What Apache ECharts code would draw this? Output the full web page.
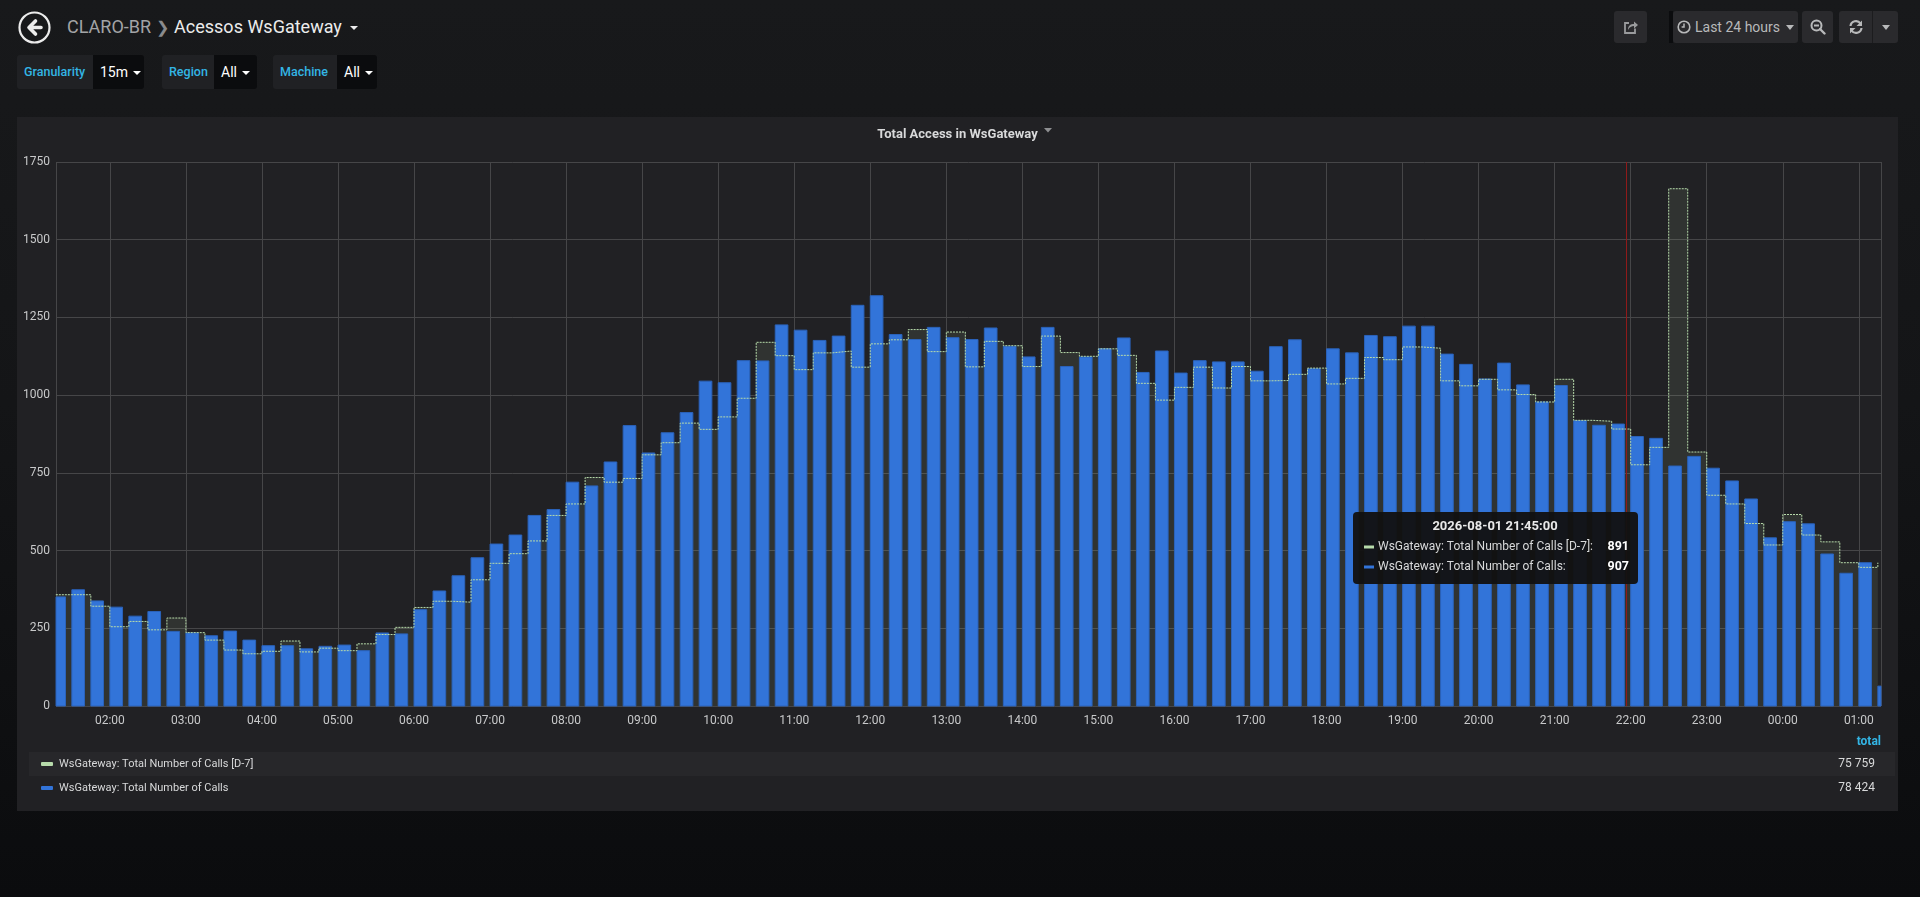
<!DOCTYPE html>
<html>
<head>
<meta charset="utf-8">
<title>Acessos WsGateway</title>
<script src="https://cdn.jsdelivr.net/npm/echarts@6/dist/echarts.min.js"></script>
<style>
html, body { margin: 0; padding: 0; }
body {
    width: 1920px; height: 897px; overflow: hidden; position: relative;
    background: linear-gradient(180deg, #18191b 0%, #141517 45%, #0b0c0e 100%);
    font-family: Roboto, "Noto Sans", sans-serif; color: #d8d9da;
}
.abs { position: absolute; }
#back { left: 18px; top: 11px; width: 33px; height: 33px; }
#crumb { left: 67px; top: 14px; font-size: 18px; line-height: 26px; white-space: nowrap; }
#crumb .org { color: #a3a4a6; }
#crumb .sep { color: #8a8b8d; margin: 0 5px; font-size: 16px; }
#crumb .dash { color: #ececec; }
#crumb .caret { display: inline-block; margin-left: 8px; vertical-align: middle; border-left: 4px solid transparent; border-right: 4px solid transparent; border-top: 4px solid #ececec; }
.var { top: 55px; height: 34px; display: flex; border-radius: 3px; overflow: hidden; }
.var .lbl { background: #202124; color: #33b5e5; font-size: 12.5px; font-weight: 500; line-height: 34px; box-sizing: border-box; padding-left: 7px; }
.var .val { background: #0b0c0e; color: #fff; font-size: 14px; line-height: 34px; box-sizing: border-box; padding-left: 7px; }
.var .val i { display: inline-block; margin-left: 5px; vertical-align: middle; border-left: 4px solid transparent; border-right: 4px solid transparent; border-top: 4px solid #fff; }
.btn { top: 11px; height: 32px; background: #2a2a2d; border-radius: 3px; display: flex; align-items: center; justify-content: center; color: #b8b9ba; font-size: 14px; box-sizing: border-box; }
#panel { left: 17px; top: 117px; width: 1881px; height: 694px; background: #212124; }
#chart { width: 1881px; height: 694px; }
</style>
</head>
<body>

<svg id="back" class="abs" viewBox="0 0 33 33">
    <circle cx="16.5" cy="16.5" r="15" fill="none" stroke="#ececec" stroke-width="2.2"/>
    <path d="M17.5 10 L11 16.5 L17.5 23 M11.5 16.5 H23" fill="none" stroke="#ececec" stroke-width="3.6" stroke-linecap="round" stroke-linejoin="round"/>
</svg>
<div id="crumb" class="abs"><span class="org">CLARO-BR</span><span class="sep">&#x276F;</span><span class="dash">Acessos WsGateway</span><i class="caret"></i></div>

<div class="var abs" style="left:17px;"><div class="lbl" style="width:76px;">Granularity</div><div class="val" style="width:51px;">15m<i></i></div></div>
<div class="var abs" style="left:162px;"><div class="lbl" style="width:52px;">Region</div><div class="val" style="width:43px;">All<i></i></div></div>
<div class="var abs" style="left:273px;"><div class="lbl" style="width:64px;">Machine</div><div class="val" style="width:40px;">All<i></i></div></div>

<div class="btn abs" style="left:1614px;width:33px;">
    <svg width="16" height="16" viewBox="0 0 16 16"><path d="M12 9.5 V14 H2 V4 H6" fill="none" stroke="#9a9b9d" stroke-width="1.8"/><path d="M5 11 C5 6 8 5 11 5 V2.5 L15 6 L11 9.5 V7 C8.5 7 6.5 8 5 11 Z" fill="#9a9b9d"/></svg>
</div>
<div class="abs" style="left:1669px;top:11px;width:4px;height:32px;background:#0b0c0e;"></div>
<div class="btn abs" style="left:1673px;width:125px;">
    <svg width="14" height="14" viewBox="0 0 14 14" style="margin-right:4px;"><circle cx="7" cy="7" r="5.8" fill="none" stroke="#b8b9ba" stroke-width="1.6"/><path d="M7 3.5 V7 H4.6" fill="none" stroke="#b8b9ba" stroke-width="1.5"/></svg>
    <span>Last 24 hours</span>
    <i style="display:inline-block;margin-left:6px;border-left:4px solid transparent;border-right:4px solid transparent;border-top:5px solid #b8b9ba;"></i>
</div>
<div class="btn abs" style="left:1802px;width:31px;">
    <svg width="16" height="16" viewBox="0 0 16 16"><circle cx="6.5" cy="6.5" r="5" fill="none" stroke="#b8b9ba" stroke-width="2"/><path d="M4 6.5 H9" stroke="#b8b9ba" stroke-width="2"/><path d="M10 10 L14.5 14.5" stroke="#b8b9ba" stroke-width="2.4" stroke-linecap="round"/></svg>
</div>
<div class="btn abs" style="left:1839px;width:59px;justify-content:flex-start;">
    <div style="width:33px;display:flex;justify-content:center;">
        <svg width="16" height="16" viewBox="0 0 16 16"><path d="M2.5 7 A5.5 5.5 0 0 1 12.5 4.5" fill="none" stroke="#b8b9ba" stroke-width="2.2"/><path d="M14 1.5 V7 H8.5 Z" fill="#b8b9ba"/><path d="M13.5 9 A5.5 5.5 0 0 1 3.5 11.5" fill="none" stroke="#b8b9ba" stroke-width="2.2"/><path d="M2 14.5 V9 H7.5 Z" fill="#b8b9ba"/></svg>
    </div>
    <div style="width:1px;height:32px;background:#1c1c1e;"></div>
    <i style="display:inline-block;margin-left:9px;border-left:4px solid transparent;border-right:4px solid transparent;border-top:5px solid #b8b9ba;"></i>
</div>

<div id="panel" class="abs"><div id="chart"></div></div>

<script>
// 15 minute slots, first one at 2026-08-01 01:15
var slotStart = [2026, 7, 1, 1, 15];
var slotMinutes = 15;
var barMinutes = 10;

var seriesNames = ['WsGateway: Total Number of Calls [D-7]', 'WsGateway: Total Number of Calls'];
var seriesColors = ['#b7dbab', '#3274d9'];

// WsGateway: Total Number of Calls [D-7]
var callsD7 = [
    358, 358, 321, 255, 272, 245, 283, 236, 212, 180, 168, 176,
    209, 174, 186, 178, 200, 230, 253, 317, 337, 334, 406, 459,
    490, 531, 613, 650, 735, 720, 732, 808, 847, 910, 890, 930,
    990, 1170, 1127, 1082, 1136, 1142, 1090, 1165, 1178, 1211, 1140, 1203,
    1091, 1173, 1159, 1092, 1190, 1137, 1125, 1149, 1128, 1038, 984, 1025,
    1090, 1023, 1092, 1046, 1047, 1067, 1087, 1036, 1054, 1121, 1114, 1155,
    1151, 1046, 1030, 1051, 1017, 1002, 978, 1051, 919, 916, 891, 776,
    832, 1664, 817, 678, 650, 587, 518, 616, 550, 528, 461, 446, 461
];

// WsGateway: Total Number of Calls
var calls = [
    351, 374, 338, 318, 289, 304, 240, 235, 226, 241, 212, 194,
    194, 184, 192, 196, 178, 235, 232, 310, 370, 419, 477, 521,
    550, 613, 632, 720, 708, 785, 902, 814, 879, 944, 1045, 1040,
    1111, 1110, 1226, 1209, 1176, 1190, 1289, 1320, 1195, 1179, 1218, 1185,
    1179, 1216, 1157, 1123, 1218, 1092, 1123, 1149, 1184, 1073, 1142, 1071,
    1111, 1107, 1107, 1077, 1156, 1178, 1085, 1149, 1136, 1192, 1188, 1222,
    1222, 1132, 1099, 1052, 1103, 1033, 978, 1031, 918, 903, 907, 867,
    861, 772, 803, 765, 724, 666, 541, 593, 586, 489, 427, 461, 64
];

var legendTotals = [75759, 78424];
var yTicks = [0, 250, 500, 750, 1000, 1250, 1500, 1750];

// time range shown (last 24 hours) and the hovered slot
var rangeStart = [2026, 7, 1, 1, 17, 30];
var rangeHours = 24;
var hoverIndex = 82;
var crosshairAt = [2026, 7, 1, 21, 56];

function ts(a) {
    return new Date(a[0], a[1], a[2], a[3], a[4], a[5] || 0).getTime();
}
function pad(n) { return (n < 10 ? '0' : '') + n; }
function fmtTotal(n) { return String(n).replace(/\B(?=(\d{3})+(?!\d))/g, ' '); }

var t0 = ts(slotStart);
var times = calls.map(function (v, i) { return t0 + i * slotMinutes * 60000; });
var d7Data = callsD7.map(function (v, i) { return [times[i], v]; });
var callData = calls.map(function (v, i) { return [times[i], v]; });
var xMin = ts(rangeStart);
var xMax = xMin + rangeHours * 3600000;

function renderBar(params, api) {
    var t = api.value(0);
    var top = api.coord([t, api.value(1)]);
    var base = api.coord([t + barMinutes * 60000, 0]);
    var cs = params.coordSys;
    var shape = echarts.graphic.clipRectByRect(
        { x: top[0], y: top[1], width: base[0] - top[0], height: base[1] - top[1] },
        { x: cs.x, y: cs.y, width: cs.width, height: cs.height }
    );
    if (!shape) return;
    return {
        type: 'rect',
        shape: shape,
        style: { fill: seriesColors[1], stroke: '#2b63bb', lineWidth: 1 }
    };
}

var hoverDate = new Date(times[hoverIndex]);
var hoverTitle = hoverDate.getFullYear() + '-' + pad(hoverDate.getMonth() + 1) + '-' + pad(hoverDate.getDate()) +
    ' ' + pad(hoverDate.getHours()) + ':' + pad(hoverDate.getMinutes()) + ':00';
var hoverValues = [callsD7[hoverIndex], calls[hoverIndex]];

var font = 'Roboto, "Noto Sans", sans-serif';
var gridTop = 45, gridBottom = 105, chartH = 694;
var graphics = [
    // title caret
    { type: 'polygon', z: 100, shape: { points: [[1027, 11], [1035, 11], [1031, 15.5]] }, style: { fill: '#8e8f91' } },
    // legend
    { type: 'rect', z: 1, shape: { x: 12, y: 635, width: 1866, height: 24 }, style: { fill: '#27272a' } },
    { type: 'text', z: 100, x: 1864, y: 625, style: { text: 'total', fill: '#33b5e5', fontSize: 12, fontWeight: 'bold', fontFamily: font, align: 'right', verticalAlign: 'middle' } }
];
[647, 671].forEach(function (y, i) {
    graphics.push({ type: 'rect', z: 100, shape: { x: 24, y: y - 2, width: 12, height: 4, r: 1 }, style: { fill: seriesColors[i] } });
    graphics.push({ type: 'text', z: 100, x: 42, y: y, style: { text: seriesNames[i], fill: '#d8d9da', fontSize: 11, fontFamily: font, verticalAlign: 'middle' } });
    graphics.push({ type: 'text', z: 100, x: 1858, y: y, style: { text: fmtTotal(legendTotals[i]), fill: '#d8d9da', fontSize: 12, fontFamily: font, align: 'right', verticalAlign: 'middle' } });
});
// hover tooltip
graphics.push({ type: 'rect', z: 200, shape: { x: 1336, y: 395, width: 285, height: 72, r: 4 }, style: { fill: 'rgba(18,18,18,0.96)' } });
graphics.push({ type: 'text', z: 201, x: 1478, y: 410, style: { text: hoverTitle, fill: '#e9e9e9', fontSize: 13, fontWeight: 'bold', fontFamily: font, align: 'center', verticalAlign: 'middle' } });
[430, 450].forEach(function (y, i) {
    graphics.push({ type: 'rect', z: 201, shape: { x: 1347, y: y - 1.5, width: 10, height: 3 }, style: { fill: seriesColors[i] } });
    graphics.push({ type: 'text', z: 201, x: 1361, y: y, style: { text: seriesNames[i] + ':', fill: '#d8d9da', fontSize: 12, fontFamily: font, verticalAlign: 'middle' } });
    graphics.push({ type: 'text', z: 201, x: 1612, y: y, style: { text: String(hoverValues[i]), fill: '#ffffff', fontSize: 12.5, fontWeight: 'bold', fontFamily: font, align: 'right', verticalAlign: 'middle' } });
});

var chart = echarts.init(document.getElementById('chart'));
var option = {
    animation: false,
    backgroundColor: 'transparent',
    textStyle: { fontFamily: font },
    title: {
        text: 'Total Access in WsGateway',
        left: 'center',
        top: 6,
        textStyle: { color: '#d8d9da', fontSize: 13, fontWeight: 'bold', fontFamily: font }
    },
    grid: { left: 39, right: 17, top: gridTop, bottom: gridBottom },
    xAxis: {
        type: 'time',
        min: xMin,
        max: xMax,
        minInterval: 3600000,
        maxInterval: 3600000,
        axisLine: { show: false },
        axisTick: { show: false },
        splitLine: { show: true, lineStyle: { color: '#464648', width: 1 } },
        axisLabel: {
            color: '#c8c9ca',
            fontSize: 12,
            margin: 9,
            showMinLabel: false,
            showMaxLabel: false,
            formatter: function (v) {
                var d = new Date(v);
                return pad(d.getHours()) + ':' + pad(d.getMinutes());
            }
        }
    },
    yAxis: {
        type: 'value',
        min: yTicks[0],
        max: yTicks[yTicks.length - 1],
        interval: yTicks[1] - yTicks[0],
        axisLine: { show: false },
        axisTick: { show: false },
        axisLabel: { color: '#c8c9ca', fontSize: 12, margin: 6, formatter: function (v) { return String(v); } },
        splitLine: { lineStyle: { color: '#464648', width: 1 } }
    },
    series: [
        {
            name: seriesNames[0] + ' fill',
            type: 'line',
            step: 'end',
            data: d7Data,
            symbol: 'none',
            z: 1,
            lineStyle: { width: 0 },
            areaStyle: { color: 'rgba(183,219,171,0.1)', opacity: 1 }
        },
        {
            name: seriesNames[1],
            type: 'custom',
            renderItem: renderBar,
            data: callData,
            encode: { x: 0, y: 1 },
            z: 2
        },
        {
            name: seriesNames[0],
            type: 'line',
            step: 'end',
            data: d7Data,
            symbol: 'none',
            z: 3,
            lineStyle: { color: seriesColors[0], width: 1, type: [2, 1] }
        }
    ],
    graphic: graphics
};
chart.setOption(option);

// hover crosshair, placed through the x axis scale
var crossX = Math.round(chart.convertToPixel({ xAxisIndex: 0 }, ts(crosshairAt))) + 0.5;
option.graphic = graphics.concat([{
    type: 'line', z: 150,
    shape: { x1: crossX, y1: gridTop, x2: crossX, y2: chartH - gridBottom },
    style: { stroke: '#8f1a1a', lineWidth: 1 }
}]);
chart.setOption(option, true);
</script>
</body>
</html>
